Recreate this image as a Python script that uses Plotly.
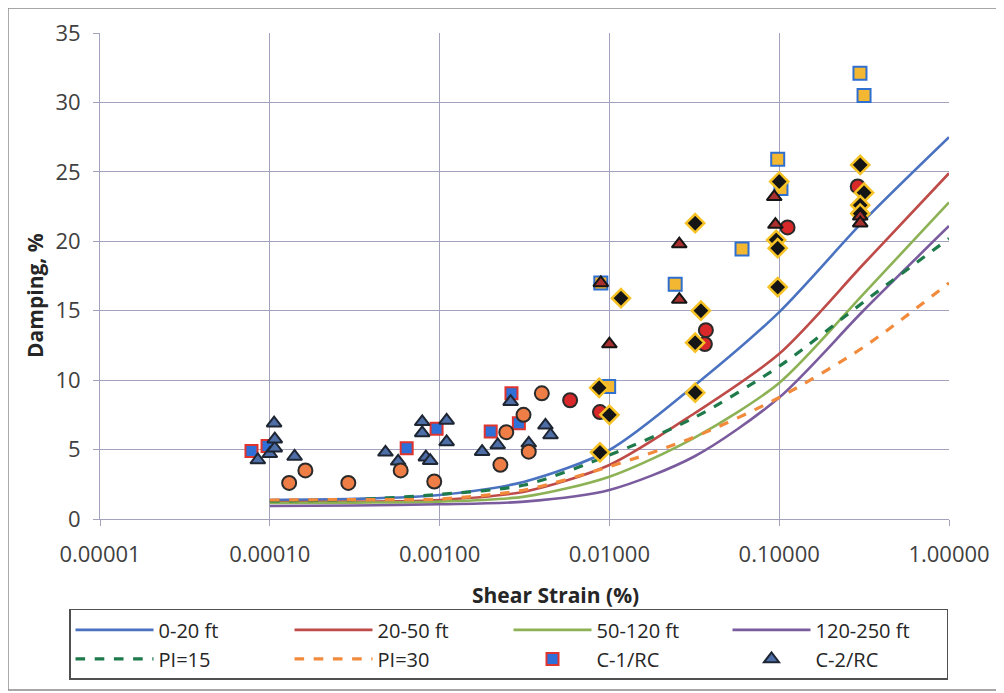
import plotly.graph_objects as go

# ---------------- data ----------------
strain_curve = [1e-4, 3.16e-4, 1e-3, 3.16e-3, 1e-2, 3.16e-2, 1e-1, 3.16e-1, 1.0]
d_0_20 = [1.37, 1.45, 1.73, 2.69, 4.97, 9.6, 14.9, 21.5, 27.5]
d_20_50 = [1.2, 1.25, 1.37, 1.97, 3.89, 7.6, 11.9, 18.4, 24.9]
d_50_120 = [1.15, 1.18, 1.25, 1.61, 3.05, 5.85, 9.8, 16.25, 22.8]
d_120_250 = [0.94, 0.97, 1.06, 1.25, 2.09, 4.5, 8.75, 15.05, 21.1]
d_pi15 = [1.3, 1.4, 1.78, 2.45, 4.6, 7.3, 11.0, 15.65, 20.2]
d_pi30 = [1.37, 1.4, 1.44, 2.09, 3.77, 5.9, 8.75, 12.4, 17.0]

c1_x = [7.8e-5, 9.7e-5, 6.4e-4, 9.6e-4, 2.0e-3, 2.65e-3, 2.93e-3]
c1_y = [4.9, 5.25, 5.1, 6.5, 6.3, 9.05, 6.9]

c2_x = [8.5e-5, 1.0e-4, 1.07e-4, 1.07e-4, 1.06e-4, 1.4e-4, 4.8e-4, 5.7e-4, 7.9e-4, 7.9e-4,
        8.3e-4, 8.8e-4, 1.1e-3, 1.1e-3, 1.78e-3, 2.2e-3, 2.62e-3, 3.35e-3, 4.2e-3, 4.5e-3]
c2_y = [4.25, 4.7, 5.1, 5.75, 6.9, 4.5, 4.8, 4.15, 7.0, 6.2,
        4.45, 4.2, 7.1, 5.55, 4.85, 5.33, 8.45, 5.45, 6.75, 6.05]

orc_x = [1.3e-4, 1.62e-4, 2.9e-4, 5.9e-4, 9.3e-4, 2.28e-3, 2.47e-3, 3.12e-3, 3.35e-3, 4.0e-3]
orc_y = [2.6, 3.5, 2.6, 3.5, 2.7, 3.9, 6.25, 7.5, 4.85, 9.05]

redc_x = [5.87e-3, 8.8e-3, 3.7e-2, 3.65e-2, 0.112, 0.29]
redc_y = [8.55, 7.7, 13.6, 12.6, 21.0, 23.95]

ysq_x = [8.9e-3, 9.9e-3, 2.44e-2, 6.04e-2, 9.8e-2, 0.1024, 0.299, 0.316]
ysq_y = [17.0, 9.55, 16.9, 19.45, 25.9, 23.8, 32.1, 30.5]

dia_x = [1.17e-2, 8.7e-3, 1.0e-2, 8.8e-3, 3.2e-2, 3.46e-2, 3.2e-2, 3.2e-2,
         0.1, 0.096, 0.098, 0.098, 0.30, 0.316, 0.30, 0.30]
dia_y = [15.9, 9.45, 7.5, 4.8, 21.3, 15.0, 12.7, 9.1,
         24.3, 20.1, 19.5, 16.7, 25.5, 23.5, 22.6, 22.0]

rtri_x = [8.9e-3, 1.0e-2, 2.58e-2, 2.58e-2, 0.0935, 0.095, 0.30, 0.30]
rtri_y = [17.0, 12.6, 19.8, 15.8, 23.2, 21.2, 21.8, 21.3]

x_ticks = [1e-5, 1e-4, 1e-3, 1e-2, 1e-1, 1.0]
x_ticktext = ["0.00001", "0.00010", "0.00100", "0.01000", "0.10000", "1.00000"]

# ---------------- figure ----------------
fig = go.Figure()

lines = [
    ("0-20 ft", d_0_20, "#4A72C0", "solid"),
    ("20-50 ft", d_20_50, "#BE4B48", "solid"),
    ("50-120 ft", d_50_120, "#8DB255", "solid"),
    ("120-250 ft", d_120_250, "#7A5C9E", "solid"),
    ("PI=15", d_pi15, "#1E7A4A", "dash"),
    ("PI=30", d_pi30, "#F28A3C", "dash"),
]
for name, ys, col, dash in lines:
    fig.add_trace(go.Scatter(
        x=strain_curve, y=ys, mode="lines", name=name,
        line=dict(color=col, width=2.6 if dash == "solid" else 3.2, dash=dash, shape="spline", smoothing=0.8),
    ))

fig.add_trace(go.Scatter(
    x=c1_x, y=c1_y, mode="markers", name="C-1/RC",
    marker=dict(symbol="square", size=12, color="#2F6FD8", line=dict(color="#E0342E", width=2)),
))
fig.add_trace(go.Scatter(
    x=c2_x, y=c2_y, mode="markers", name="C-2/RC",
    marker=dict(symbol="triangle-up", size=13, color="#4E6EA8", line=dict(color="#1E2633", width=2)),
))
fig.add_trace(go.Scatter(
    x=orc_x, y=orc_y, mode="markers", name="C-3", showlegend=False,
    marker=dict(symbol="circle", size=14, color="#EE7E45", line=dict(color="#2A2A2A", width=2)),
))
fig.add_trace(go.Scatter(
    x=redc_x, y=redc_y, mode="markers", name="C-4", showlegend=False,
    marker=dict(symbol="circle", size=14, color="#D8282A", line=dict(color="#2A2A2A", width=2)),
))
fig.add_trace(go.Scatter(
    x=ysq_x, y=ysq_y, mode="markers", name="C-5", showlegend=False,
    marker=dict(symbol="square", size=13, color="#F4B731", line=dict(color="#2F6FD0", width=2)),
))
fig.add_trace(go.Scatter(
    x=dia_x, y=dia_y, mode="markers", name="C-6", showlegend=False,
    marker=dict(symbol="diamond", size=14, color="#151515", line=dict(color="#F6C225", width=2.5)),
))
fig.add_trace(go.Scatter(
    x=rtri_x, y=rtri_y, mode="markers", name="C-7", showlegend=False,
    marker=dict(symbol="triangle-up", size=13, color="#A8302E", line=dict(color="#151515", width=2)),
))

grid_col = "#A2A2BE"
fig.update_xaxes(
    type="log", range=[-5, 0], tickvals=x_ticks, ticktext=x_ticktext,
    showgrid=True, gridcolor=grid_col, gridwidth=1,
    showline=True, linecolor=grid_col, linewidth=1,
    ticks="outside", ticklen=6, tickcolor=grid_col, ticklabelstandoff=10,
    tickfont=dict(family="Open Sans", size=22, color="#404040"),
    zeroline=False, mirror=False, automargin=False,
)
fig.update_yaxes(
    range=[0, 35], dtick=5, tick0=0,
    showgrid=True, gridcolor=grid_col, gridwidth=1,
    showline=True, linecolor=grid_col, linewidth=1,
    ticks="outside", ticklen=6, tickcolor=grid_col, ticklabelstandoff=8,
    tickfont=dict(family="Open Sans", size=22, color="#404040"),
    zeroline=False, automargin=False,
)

# page body adds an 8px offset; the figure is sized so it fills the window
fig.update_layout(
    width=996, height=685,
    margin=dict(l=92, r=55, t=25, b=174),
    paper_bgcolor="white", plot_bgcolor="white",
    font=dict(family="Open Sans", color="#262626"),
    showlegend=True,
    legend=dict(
        orientation="h", x=-0.0365, y=-0.185, xanchor="left", yanchor="top",
        itemwidth=78, entrywidth=126, entrywidthmode="pixels",
        bordercolor="#505050", borderwidth=1.5, bgcolor="white",
        font=dict(family="Open Sans", size=20, color="#262626"),
        tracegroupgap=0,
    ),
    annotations=[
        dict(text="<b>Shear Strain (%)</b>", x=0.537, y=-0.156, xref="paper", yref="paper",
             showarrow=False, font=dict(family="Open Sans", size=21, color="#262626"),
             xanchor="center", yanchor="middle"),
        dict(text="<b>Damping, %</b>", x=-0.0766, y=0.461, xref="paper", yref="paper",
             showarrow=False, textangle=-90, font=dict(family="Open Sans", size=21, color="#262626"),
             xanchor="center", yanchor="middle"),
    ],
    shapes=[
        dict(type="rect", xref="paper", yref="paper", x0=-0.1084, x1=1.060, y0=-0.3519, y1=1.0514,
             line=dict(color="#8A8A8A", width=1.5), fillcolor="rgba(0,0,0,0)", layer="below"),
    ],
)

fig.write_html("out.html")
